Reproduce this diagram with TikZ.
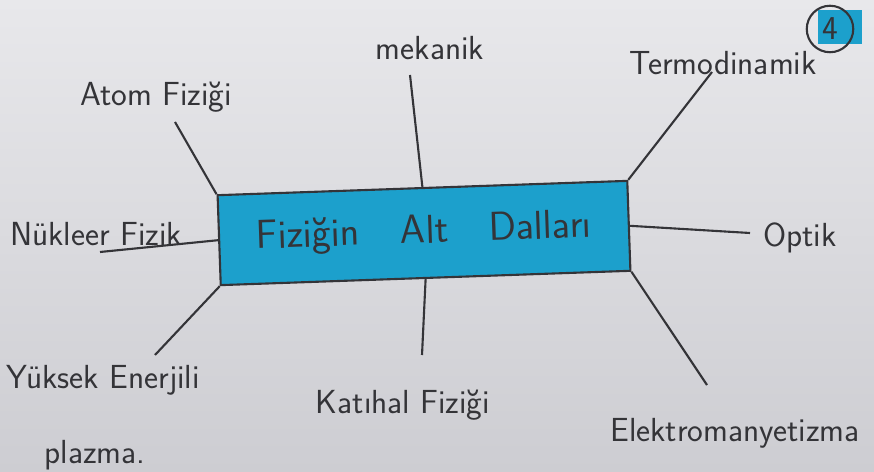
\documentclass[tikz,border=0pt]{standalone}
\usepackage{tikz}
\definecolor{ink}{RGB}{52,52,56}
\definecolor{marker}{RGB}{28,160,204}
\definecolor{papertop}{RGB}{232,232,235}
\definecolor{paperbot}{RGB}{205,205,210}
\begin{document}
\begin{tikzpicture}[x=0.02cm, y=-0.02cm,
  branch/.style={ink, line width=1.2pt},
  lbl/.style={ink, font=\sffamily\fontsize{19}{22}\selectfont, inner sep=1pt}]
\shade[top color=papertop, bottom color=paperbot] (0,0) rectangle (874,472);
\useasboundingbox (0,0) rectangle (874,472);

% orta kutu
\node[draw=ink, line width=1.2pt, fill=marker, rotate=2,
  minimum width=8.2cm, minimum height=1.8cm,
  font=\sffamily\fontsize{23}{26}\selectfont, text=ink] (box) at (424,233)
  {Fiziğin\quad Alt\quad Dalları};

% etiketler
\node[lbl] (atom) at (156,97) {Atom Fiziği};
\node[lbl] (mek) at (430,48) {mekanik};
\node[lbl] (termo) at (723,63) {Termodinamik};
\node[lbl] (nuk) at (96,234) {Nükleer Fizik};
\node[lbl] (optik) at (800,238) {Optik};
\node[lbl] (yuk) at (103,380) {Yüksek Enerjili};
\node[lbl] (plaz) at (95,455) {plazma.};
\node[lbl] (kati) at (403,405) {Katıhal Fiziği};
\node[lbl] (elek) at (735,433) {Elektromanyetizma};

% sayfa numarasi
\fill[marker] (818,10) rectangle (862,44);
\node[lbl, draw=ink, circle, line width=1.2pt, inner sep=4pt] (num) at (830,29) {4};

% dallar
\coordinate (atomEnd) at (175,122);
\coordinate (mekEnd) at (410,75);
\coordinate (termoEnd) at (712,72);
\coordinate (nukEnd) at (100,252);
\coordinate (optikEnd) at (750,233);
\coordinate (yukEnd) at (155,355);
\coordinate (katiEnd) at (422,355);
\coordinate (elekEnd) at (707,385);

\draw[branch] (box.north west) -- (atomEnd);
\draw[branch] (box.north) -- (mekEnd);
\draw[branch] (box.north east) -- (termoEnd);
\draw[branch] (box.west) -- (nukEnd);
\draw[branch] (box.east) -- (optikEnd);
\draw[branch] (box.south west) -- (yukEnd);
\draw[branch] (box.south) -- (katiEnd);
\draw[branch] (box.south east) -- (elekEnd);
\end{tikzpicture}
\end{document}
